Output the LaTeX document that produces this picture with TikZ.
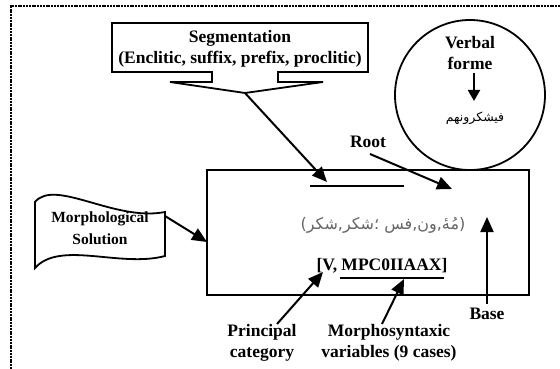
\documentclass[tikz,border=0pt]{standalone}
\usepackage{fontspec}
\setmainfont{Liberation Serif}
\newfontfamily\arabicfont[Script=Arabic]{DejaVu Sans}
\newfontfamily\djsans{DejaVu Sans}
\usetikzlibrary{arrows.meta}
\newcommand\lblfont{\fontsize{17.5}{21}\selectfont\bfseries}
\newcommand\arw[1]{\mbox{\arabicfont #1}}
\tikzset{
  lbl/.style={font=\lblfont, align=center, inner sep=0pt},
  outl/.style={draw=black, line width=1.8pt, line join=miter},
  arr/.style={-{Triangle[length=15pt, width=13pt]}, line width=2pt},
  bar/.style={line width=2.2pt},
  frm/.style={line width=1.3pt, dash pattern=on 2pt off 0.8pt},
  arb/.style={inner sep=0pt, font=\djsans\fontsize{16}{18}\selectfont, text=black!60},
}
\begin{document}
\begin{tikzpicture}[x=1pt, y=-1pt]
  \useasboundingbox (0,0) rectangle (560,369);
  \draw[frm] (11,369) -- (11,6) -- (560,6);
  % segmentation callout
  \draw[outl] (112,23) -- (368,23) -- (368,72) -- (278,72) -- (278,82) -- (323,82) -- (245,93)
    -- (170,82) -- (212,82) -- (212,72) -- (112,72) -- cycle;
  \node[lbl] (seg) at (240,49) {Segmentation\\(Enclitic, suffix, prefix, proclitic)};
  \coordinate (segtip) at (245,93);
  % verbal form
  \node[circle, outl, minimum size=150pt, inner sep=0pt] (verb) at (470,95) {};
  \node[lbl] (vf) at (470,53) {Verbal\\forme};
  \coordinate (vfa) at (474,73);
  \coordinate (vfb) at (474,101);
  \draw[arr, -{Triangle[length=11pt, width=12pt]}] (vfa) -- (vfb);
  \node[arb, text=black, font=\djsans\fontsize{12.5}{14}\selectfont] (vword) at (475,118) {\arw{فيشكرونهم}};
  % main box
  \node[outl, minimum width=322pt, minimum height=125pt, inner sep=0pt] (box) at (368,232.5) {};
  \coordinate (barL) at (310,186);
  \coordinate (barR) at (404,186);
  \draw[bar] (barL) -- (barR);
  \node[arb] (sol) at (383,225) {(\arw{شكر},\arw{شكر}\arw{؛} \arw{فس},\arw{ون},\arw{مُهٔ})};
  \node[lbl, anchor=base] (tag) at (382,270) {[V, MPC0IIAAX]};
  \coordinate (ulL) at (340,278);
  \coordinate (ulR) at (444,278);
  \draw[bar] (ulL) -- (ulR);
  % morphological solution
  \draw[outl] (35,202) .. controls (55,178) and (115,222) .. (165,212) -- (165,256)
    .. controls (120,268) and (60,240) .. (35,268) -- cycle;
  \node[lbl, font=\fontsize{15.5}{22}\selectfont\bfseries] (msol) at (100,228) {Morphological\\Solution};
  \coordinate (solR) at (165,216);
  % labels
  \node[lbl] (root) at (368,142) {Root};
  \node[lbl] (base) at (487,314) {Base};
  \node[lbl] (prin) at (262,343) {Principal\\category};
  \node[lbl] (morph) at (389,343) {Morphosyntaxic\\variables (9 cases)};
  \coordinate (barhit) at (327,182);
  \coordinate (rootT) at (370,154);
  \coordinate (rootin) at (452,189);
  \coordinate (boxin) at (207,242);
  \coordinate (baseT) at (487,304);
  \coordinate (basein) at (487,217);
  \coordinate (prinT) at (277,324);
  \coordinate (tagV) at (323,272);
  \coordinate (morphT) at (382,324);
  \coordinate (ulhit) at (404,279);
  \foreach \a/\b in {segtip/barhit, rootT/rootin, solR/boxin, baseT/basein, prinT/tagV, morphT/ulhit}
    { \draw[arr] (\a) -- (\b); }
\end{tikzpicture}
\end{document}
